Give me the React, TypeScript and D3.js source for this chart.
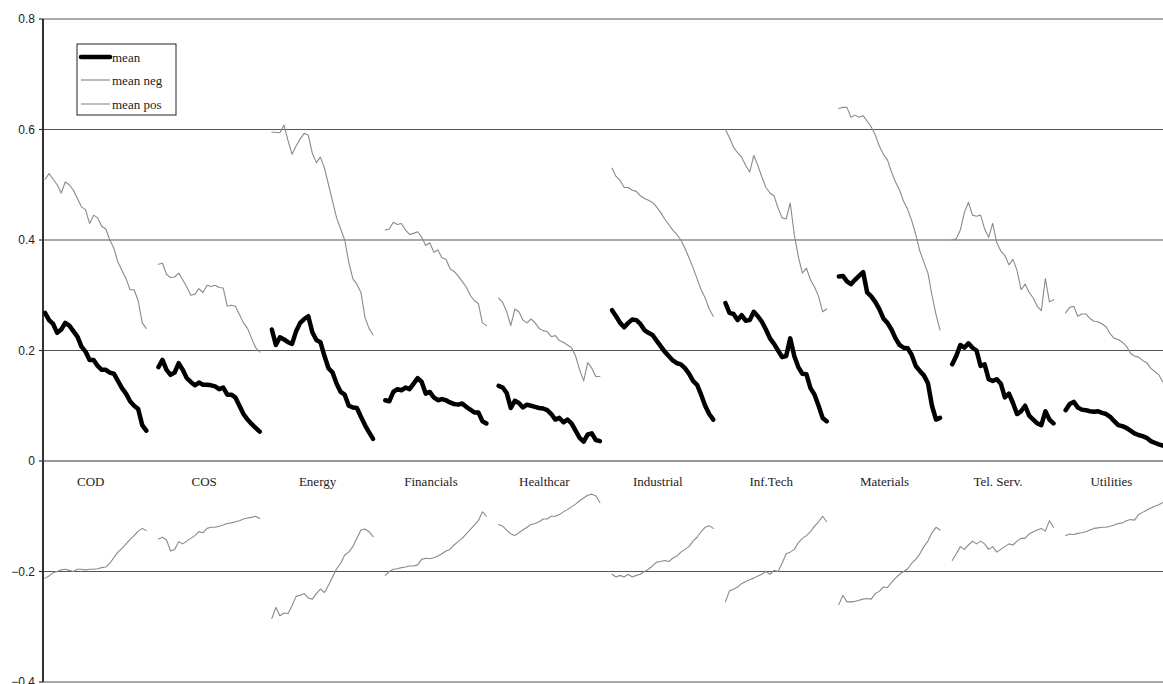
import React from "react";
import * as d3 from "d3";

const categories = ["COD", "COS", "Energy", "Financials", "Healthcar", "Industrial", "Inf.Tech", "Materials", "Tel. Serv.", "Utilities"];
const yTicks = [0.8, 0.6, 0.4, 0.2, 0, -0.2, -0.4];

const meanValues: number[][] = [
  [0.268, 0.255, 0.248, 0.232, 0.238, 0.25, 0.245, 0.235, 0.225, 0.207, 0.198, 0.183, 0.183, 0.172, 0.165, 0.165, 0.16, 0.158, 0.145, 0.132, 0.122, 0.108, 0.1, 0.094, 0.065, 0.055],
  [0.17, 0.183, 0.165, 0.156, 0.16, 0.177, 0.165, 0.15, 0.143, 0.137, 0.142, 0.138, 0.138, 0.137, 0.135, 0.13, 0.133, 0.12, 0.12, 0.115, 0.1, 0.085, 0.075, 0.067, 0.06, 0.053],
  [0.238, 0.21, 0.224, 0.22, 0.215, 0.212, 0.235, 0.25, 0.257, 0.262, 0.233, 0.219, 0.215, 0.19, 0.168, 0.16, 0.14, 0.125, 0.12, 0.1, 0.097, 0.096, 0.08, 0.065, 0.052, 0.04],
  [0.11, 0.108, 0.125, 0.13, 0.128, 0.133, 0.13, 0.14, 0.15, 0.143, 0.122, 0.125, 0.115, 0.11, 0.112, 0.11, 0.106, 0.103, 0.102, 0.104, 0.098, 0.093, 0.088, 0.088, 0.072, 0.068],
  [0.136, 0.133, 0.123, 0.096, 0.109, 0.105, 0.097, 0.102, 0.1, 0.098, 0.096, 0.095, 0.092, 0.085, 0.075, 0.078, 0.07, 0.075, 0.068, 0.055, 0.042, 0.035, 0.048, 0.05, 0.038, 0.036],
  [0.273, 0.262, 0.25, 0.242, 0.25, 0.256, 0.255, 0.248, 0.237, 0.232, 0.228, 0.218, 0.208, 0.198, 0.19, 0.182, 0.177, 0.175, 0.168, 0.158, 0.145, 0.138, 0.12, 0.1, 0.085, 0.075],
  [0.286, 0.268, 0.266, 0.255, 0.264, 0.254, 0.255, 0.27, 0.262, 0.252, 0.238, 0.222, 0.212, 0.2, 0.188, 0.19, 0.222, 0.19, 0.17, 0.158, 0.157, 0.132, 0.12, 0.1, 0.078, 0.072],
  [0.334, 0.335, 0.325, 0.32, 0.328, 0.335, 0.342, 0.305, 0.298, 0.288, 0.275, 0.258, 0.25, 0.238, 0.222, 0.21, 0.205, 0.204, 0.192, 0.172, 0.163, 0.155, 0.141, 0.1, 0.075, 0.078],
  [0.175, 0.19, 0.21, 0.205, 0.213, 0.205, 0.2, 0.172, 0.175, 0.148, 0.145, 0.148, 0.14, 0.115, 0.122, 0.105, 0.085, 0.09, 0.1, 0.082, 0.075, 0.068, 0.065, 0.09, 0.075, 0.068],
  [0.092, 0.103, 0.107, 0.097, 0.093, 0.092, 0.09, 0.089, 0.09, 0.087, 0.085, 0.08, 0.072, 0.065, 0.063, 0.06, 0.055, 0.05, 0.047, 0.045, 0.042, 0.036, 0.033, 0.03, 0.028, 0.026],
];

const meanNegValues: number[][] = [
  [-0.212, -0.208, -0.202, -0.2, -0.197, -0.196, -0.198, -0.2, -0.196, -0.196, -0.197, -0.196, -0.196, -0.195, -0.193, -0.192, -0.185, -0.175, -0.165, -0.158, -0.15, -0.142, -0.135, -0.127, -0.122, -0.126],
  [-0.141, -0.138, -0.143, -0.163, -0.16, -0.146, -0.15, -0.145, -0.14, -0.135, -0.128, -0.13, -0.122, -0.12, -0.12, -0.118, -0.116, -0.113, -0.112, -0.11, -0.108, -0.105, -0.103, -0.102, -0.1, -0.104],
  [-0.285, -0.265, -0.28, -0.275, -0.276, -0.262, -0.245, -0.243, -0.24, -0.248, -0.25, -0.24, -0.232, -0.238, -0.225, -0.21, -0.195, -0.185, -0.17, -0.165, -0.155, -0.14, -0.125, -0.123, -0.128, -0.137],
  [-0.207, -0.2, -0.196, -0.195, -0.193, -0.192, -0.19, -0.19, -0.188, -0.178, -0.176, -0.177, -0.175, -0.172, -0.168, -0.163, -0.16, -0.152, -0.146, -0.14, -0.132, -0.124, -0.116, -0.108, -0.092, -0.1],
  [-0.115, -0.118, -0.125, -0.132, -0.135, -0.13, -0.125, -0.12, -0.115, -0.113, -0.11, -0.105, -0.105, -0.1, -0.1, -0.097, -0.092, -0.088, -0.083, -0.078, -0.072, -0.067, -0.062, -0.06, -0.063, -0.075],
  [-0.205, -0.21, -0.207, -0.21, -0.205, -0.21, -0.207, -0.205, -0.2, -0.196, -0.19, -0.183, -0.182, -0.18, -0.182, -0.176, -0.172, -0.165, -0.16, -0.155, -0.145, -0.138, -0.128, -0.12, -0.117, -0.122],
  [-0.255, -0.235, -0.232, -0.228, -0.222, -0.218, -0.215, -0.212, -0.208, -0.205, -0.2, -0.205, -0.198, -0.2, -0.185, -0.168, -0.165, -0.16, -0.148, -0.14, -0.135, -0.128, -0.118, -0.11, -0.1, -0.11],
  [-0.26, -0.243, -0.255, -0.255, -0.254, -0.252, -0.25, -0.249, -0.25, -0.24, -0.236, -0.228, -0.229, -0.22, -0.212, -0.205, -0.2, -0.195, -0.185, -0.178, -0.168, -0.155, -0.145, -0.13, -0.12, -0.125],
  [-0.18, -0.168, -0.155, -0.16, -0.152, -0.145, -0.15, -0.145, -0.15, -0.16, -0.155, -0.165, -0.16, -0.155, -0.15, -0.152, -0.145, -0.14, -0.14, -0.132, -0.128, -0.125, -0.122, -0.127, -0.108, -0.12],
  [-0.135, -0.132, -0.133, -0.131, -0.13, -0.128, -0.125, -0.122, -0.121, -0.12, -0.12, -0.118, -0.116, -0.113, -0.112, -0.108, -0.106, -0.107, -0.097, -0.093, -0.089, -0.085, -0.082, -0.079, -0.075, -0.072],
];

const meanPosValues: number[][] = [
  [0.51, 0.52, 0.51, 0.5, 0.485, 0.505, 0.5, 0.49, 0.475, 0.46, 0.455, 0.43, 0.445, 0.44, 0.425, 0.42, 0.4, 0.385, 0.36, 0.345, 0.33, 0.31, 0.31, 0.29, 0.25, 0.24],
  [0.356, 0.358, 0.338, 0.332, 0.333, 0.34, 0.328, 0.315, 0.3, 0.302, 0.312, 0.305, 0.318, 0.316, 0.318, 0.314, 0.313, 0.28, 0.282, 0.28, 0.265, 0.25, 0.24, 0.222, 0.205, 0.197],
  [0.595, 0.595, 0.594, 0.608, 0.58, 0.555, 0.57, 0.583, 0.593, 0.59, 0.557, 0.54, 0.55, 0.53, 0.5, 0.47, 0.44, 0.42, 0.4, 0.36, 0.33, 0.32, 0.305, 0.26, 0.24, 0.228],
  [0.418, 0.42, 0.432, 0.428, 0.43, 0.418, 0.41, 0.412, 0.415, 0.405, 0.39, 0.395, 0.378, 0.382, 0.368, 0.365, 0.348, 0.343, 0.335, 0.325, 0.315, 0.3, 0.29, 0.285, 0.25, 0.245],
  [0.295, 0.287, 0.27, 0.245, 0.275, 0.27, 0.255, 0.25, 0.257, 0.25, 0.24, 0.236, 0.234, 0.225, 0.227, 0.218, 0.215, 0.21, 0.205, 0.19, 0.165, 0.145, 0.178, 0.168, 0.153, 0.153],
  [0.53, 0.515, 0.508, 0.495, 0.495, 0.49, 0.488, 0.48, 0.475, 0.472, 0.468, 0.46, 0.45, 0.438, 0.428, 0.418, 0.41, 0.4, 0.385, 0.368, 0.35, 0.33, 0.31, 0.295, 0.275, 0.262],
  [0.6, 0.585, 0.568, 0.558, 0.55, 0.535, 0.523, 0.553, 0.535, 0.514, 0.495, 0.485, 0.48, 0.458, 0.44, 0.438, 0.467, 0.41, 0.37, 0.34, 0.349, 0.328, 0.315, 0.298, 0.27, 0.275],
  [0.638, 0.64, 0.64, 0.622, 0.626, 0.622, 0.625, 0.615, 0.605, 0.59, 0.57, 0.555, 0.545, 0.523, 0.505, 0.49, 0.47, 0.455, 0.435, 0.41, 0.38, 0.36, 0.34, 0.3, 0.265, 0.237],
  [0.4, 0.402, 0.418, 0.45, 0.468, 0.445, 0.443, 0.445, 0.42, 0.405, 0.43, 0.395, 0.38, 0.372, 0.355, 0.365, 0.345, 0.31, 0.32, 0.305, 0.295, 0.28, 0.272, 0.33, 0.288, 0.292],
  [0.268, 0.278, 0.28, 0.262, 0.266, 0.266, 0.258, 0.253, 0.252, 0.248, 0.243, 0.23, 0.222, 0.22, 0.215, 0.208, 0.195, 0.19, 0.188, 0.182, 0.178, 0.168, 0.162, 0.156, 0.143, 0.135],
];

const SLOTS_PER_GROUP = 28;
const W = 1163;
const H = 684;
const LEFT = 43;
const SLOT = 4.05;

export default function App() {
  const totalSlots = categories.length * SLOTS_PER_GROUP;
  const x = d3.scaleLinear().domain([0, totalSlots]).range([LEFT, LEFT + totalSlots * SLOT]);
  const y = d3.scaleLinear().domain([-0.4, 0.8]).range([682, 19]);

  const line = (g: number) =>
    d3.line<number>()
      .x((_, i) => x(g * SLOTS_PER_GROUP + i + 0.5))
      .y((v) => y(v));

  const series = [
    { name: "mean neg", data: meanNegValues, color: "#8a8a8a", width: 1.1 },
    { name: "mean pos", data: meanPosValues, color: "#8a8a8a", width: 1.1 },
    { name: "mean", data: meanValues, color: "#000", width: 4.5 },
  ];

  return (
    <svg width={W} height={H} style={{ position: "absolute", left: 0, top: 0, background: "#fff" }}>
      <defs>
        <clipPath id="plot">
          <rect x={LEFT} y={0} width={W - LEFT} height={H} />
        </clipPath>
      </defs>
      {yTicks.map((t) => (
        <g key={t}>
          <line x1={LEFT} x2={W} y1={y(t)} y2={y(t)} stroke={t === 0 ? "#333" : "#555"} strokeWidth={1.2} />
          <line x1={LEFT - 4} x2={LEFT} y1={y(t)} y2={y(t)} stroke="#333" strokeWidth={1.2} />
          <text x={35} y={y(t)} dy="0.35em" textAnchor="end" fontFamily="Liberation Sans, Arial, sans-serif" fontSize={12} fill="#222">
            {t === 0 ? "0" : d3.format(".1f")(t)}
          </text>
        </g>
      ))}
      <line x1={LEFT} x2={LEFT} y1={y(0.8)} y2={y(-0.4)} stroke="#333" strokeWidth={2} />
      {categories.map((c, g) => (
        <text key={c} x={x(g * SLOTS_PER_GROUP + 11.8)} y={481} dy="0.35em" textAnchor="middle" fontFamily="Liberation Serif, 'Times New Roman', serif" fontSize={13} fill="#222">
          {c}
        </text>
      ))}
      <g clipPath="url(#plot)">
        {series.map((s) =>
          s.data.map((vals, g) => (
            <path key={s.name + g} d={line(g)(vals) || ""} fill="none" stroke={s.color} strokeWidth={s.width} strokeLinejoin="round" strokeLinecap="round" />
          ))
        )}
      </g>
      <g>
        <rect x={77} y={44} width={99} height={71} fill="#fff" stroke="#222" strokeWidth={1} />
        <line x1={81} x2={110} y1={57} y2={57} stroke="#000" strokeWidth={4.5} strokeLinecap="round" />
        <line x1={81} x2={110} y1={80} y2={80} stroke="#aaa" strokeWidth={1.6} />
        <line x1={81} x2={110} y1={104} y2={104} stroke="#8a8a8a" strokeWidth={1.1} />
        {[["mean", 57], ["mean neg", 80], ["mean pos", 104]].map(([t, yy]) => (
          <text key={t as string} x={112} y={yy as number} dy="0.35em" fontFamily="Liberation Serif, 'Times New Roman', serif" fontSize={13} fill="#222">
            {t}
          </text>
        ))}
      </g>
    </svg>
  );
}
